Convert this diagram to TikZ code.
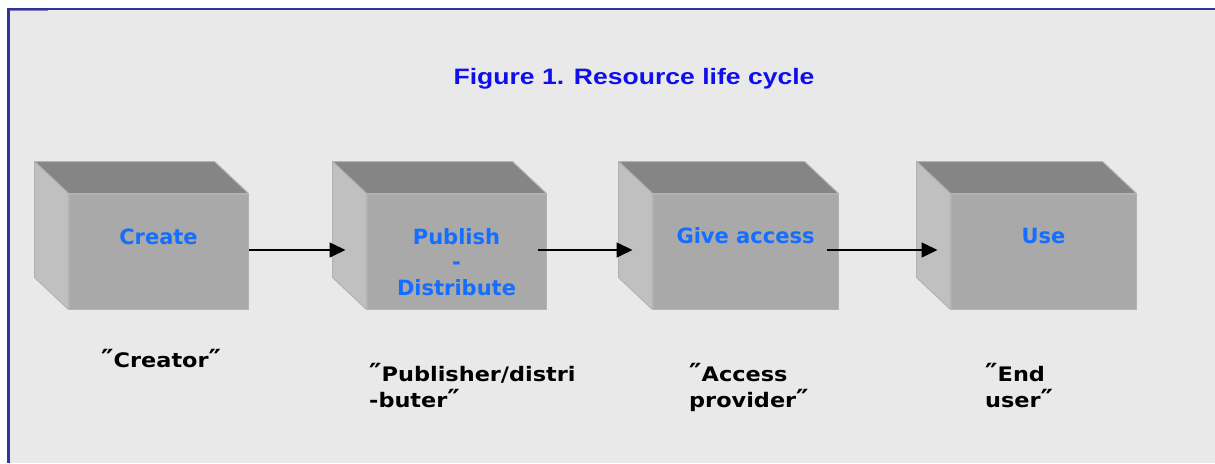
\documentclass[tikz,border=0pt]{standalone}
\usepackage{fontspec}
\usetikzlibrary{arrows.meta,calc}
\newfontfamily\titlefont{Liberation Sans}[FakeStretch=1.19]
\newfontfamily\boxfont{DejaVu Sans}
\newfontfamily\lblfont{DejaVu Sans}[FakeStretch=1.12]
\newcommand{\dq}{{\fontsize{25}{25}\selectfont ″}}
\definecolor{bgcol}{RGB}{233,233,233}
\definecolor{navy}{RGB}{51,51,153}
\definecolor{navylight}{RGB}{128,128,192}
\definecolor{titleblue}{RGB}{15,15,235}
\definecolor{labelblue}{RGB}{20,110,255}
\definecolor{frontcol}{RGB}{169,169,169}
\definecolor{topcol}{RGB}{133,133,133}
\definecolor{sidecol}{RGB}{192,192,192}
\definecolor{edgecol}{RGB}{178,178,178}
\begin{document}
\begin{tikzpicture}[x=1pt,y=-1pt,
  front/.style={rectangle,draw=edgecol,line width=1pt,fill=frontcol,minimum height=115pt,inner sep=0pt},
  topface/.style={fill=topcol,draw=edgecol,line width=1pt,line join=round},
  sideface/.style={fill=sidecol,draw=edgecol,line width=1pt,line join=round},
  titlestyle/.style={anchor=base,inner sep=0pt,text=titleblue,font=\titlefont\bfseries\fontsize{22.3}{26}\selectfont},
  boxlabel/.style={anchor=base,inner sep=0pt,text=labelblue,font=\boxfont\bfseries\fontsize{21}{25.8}\selectfont},
  rolelabel/.style={anchor=base west,inner sep=0pt,text=black,font=\lblfont\bfseries\fontsize{20}{25}\selectfont},
  flow/.style={line width=1.6pt,-{Triangle[length=16pt,width=15pt]}}]
\useasboundingbox (0,0) rectangle (1215,463);
\fill[white] (0,0) rectangle (1215,463);
\fill[bgcol] (8,8) rectangle (1215,463);
\draw[navy,line width=2.6pt] (7,8.8) -- (1215,8.8);
\draw[navy,line width=2.4pt] (8.3,7.5) -- (8.3,463);
\draw[navylight,line width=1.2pt] (9.5,10.6) -- (48,10.6);

\node[titlestyle] (title) at (634,84.3) {Figure 1. Resource life cycle};

% front faces
\node[front,minimum width=179pt] (f1) at (158.5,251.5) {};
\node[front,minimum width=179pt] (f2) at (456.5,251.5) {};
\node[front,minimum width=185pt] (f3) at (745.5,251.5) {};
\node[front,minimum width=185pt] (f4) at (1043.5,251.5) {};
\foreach \f in {f1,f2,f3,f4}{
  \path[topface] (\f.north west) -- ++(-34,-32) -- ($(\f.north east)+(-34,-32)$) -- (\f.north east) -- cycle;
  \path[sideface] (\f.north west) -- ++(-34,-32) -- ($(\f.south west)+(-34,-32)$) -- (\f.south west) -- cycle;
}

\node[boxlabel] (l1) at (158.5,244) {Create};
\node[boxlabel] (l2) at (456.5,244) {\begin{tabular}[t]{@{}c@{}}Publish\\-\\Distribute\end{tabular}};
\node[boxlabel] (l3) at (745.5,243) {Give access};
\node[boxlabel] (l4) at (1043.5,243) {Use};

\draw[flow] ([yshift=1.5pt]f1.east) -- ([xshift=-21pt,yshift=1.5pt]f2.west);
\draw[flow] ([xshift=-9pt,yshift=1.5pt]f2.east) -- ([xshift=-20pt,yshift=1.5pt]f3.west);
\draw[flow] ([xshift=-12pt,yshift=1.5pt]f3.east) -- ([xshift=-13pt,yshift=1.5pt]f4.west);

\node[rolelabel] (r1) at (101,367.3) {\dq Creator\dq};
\node[rolelabel] (r2) at (369,381.7) {\begin{tabular}[t]{@{}l@{}}\dq Publisher/distri\\-buter\dq\end{tabular}};
\node[rolelabel] (r3) at (689,381.7) {\begin{tabular}[t]{@{}l@{}}\dq Access\\provider\dq\end{tabular}};
\node[rolelabel] (r4) at (985,381.7) {\begin{tabular}[t]{@{}l@{}}\dq End\\user\dq\end{tabular}};
\end{tikzpicture}
\end{document}
